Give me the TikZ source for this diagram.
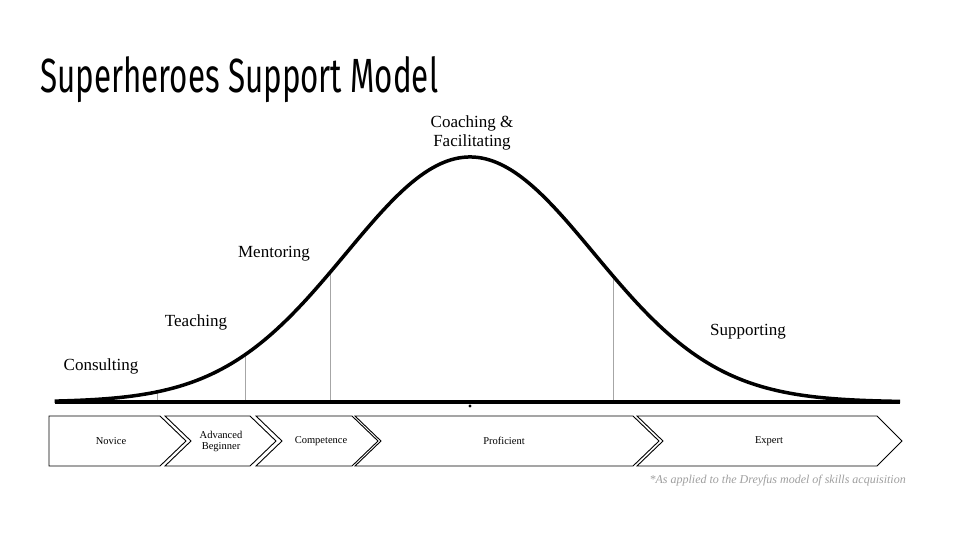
\documentclass[tikz,border=0pt]{standalone}
\usepackage{fontspec}
\setmainfont{Liberation Serif}
\newfontfamily\titlefont{Fira Sans}
\begin{document}
\begin{tikzpicture}[x=1pt,y=-1pt,
  lbl/.style={font=\fontsize{17}{19}\selectfont, align=center},
  boxtxt/.style={font=\fontsize{10.5}{11}\selectfont, align=center},
  chev/.style={draw=black, line width=0.9pt, fill=white},
  guide/.style={draw=gray!70, line width=0.6pt}]
\useasboundingbox (0,0) rectangle (958,538);
\fill[white] (0,0) rectangle (958,538);
\node[anchor=base west, inner sep=0] (title) at (40,92) {\resizebox{398pt}{36pt}{\titlefont\fontsize{40}{40}\selectfont Superheroes Support Model}};
% guide lines
\coordinate (g1b) at (157,402); \coordinate (g1t) at (157,392);
\coordinate (g2b) at (245,402); \coordinate (g2t) at (245,355);
\coordinate (g3b) at (330,402); \coordinate (g3t) at (330,272);
\coordinate (g4b) at (613,402); \coordinate (g4t) at (613,276);
\draw[guide] (g1b) -- (g1t); \draw[guide] (g2b) -- (g2t);
\draw[guide] (g3b) -- (g3t); \draw[guide] (g4b) -- (g4t);
% baseline and curve
\coordinate (bl) at (55,402); \coordinate (br) at (900,402);
\draw[line width=3.5pt] (bl) -- (br);
\draw[line width=3.5pt, line join=round] plot[domain=-3.35:3.47, samples=150, smooth] ({470+124*\x},{402-245*exp(-\x*\x/2)});
\fill (470,406) circle (1.6pt);
% chevrons
\draw[chev] (49,416) -- (160,416) -- (186,441) -- (160,466) -- (49,466) -- cycle;
\draw[chev] (165,416) -- (250,416) -- (276,441) -- (250,466) -- (165,466) -- (191,441) -- cycle;
\draw[chev] (256,416) -- (352,416) -- (378,441) -- (352,466) -- (256,466) -- (282,441) -- cycle;
\draw[chev] (355,416) -- (633,416) -- (659,441) -- (633,466) -- (355,466) -- (381,441) -- cycle;
\draw[chev] (637,416) -- (877,416) -- (902,441) -- (877,466) -- (637,466) -- (663,441) -- cycle;
\node[boxtxt] (novice) at (111,441) {Novice};
\node[boxtxt] (adv) at (221,441) {Advanced\\Beginner};
\node[boxtxt] (comp) at (321,441) {Competence};
\node[boxtxt] (prof) at (504,441) {Proficient};
\node[boxtxt] (exp) at (769,441) {Expert};
% labels
\node[lbl] (consult) at (101,366) {Consulting};
\node[lbl] (teach) at (196,322) {Teaching};
\node[lbl] (mentor) at (274,254) {Mentoring};
\node[lbl] (coach) at (472,133) {Coaching \&\\Facilitating};
\node[lbl] (support) at (748,332) {Supporting};
\node[anchor=east, text=gray!75, font=\fontsize{12}{13}\selectfont\itshape, inner sep=0] (note) at (906,481) {*As applied to the Dreyfus model of skills acquisition};
\end{tikzpicture}
\end{document}
